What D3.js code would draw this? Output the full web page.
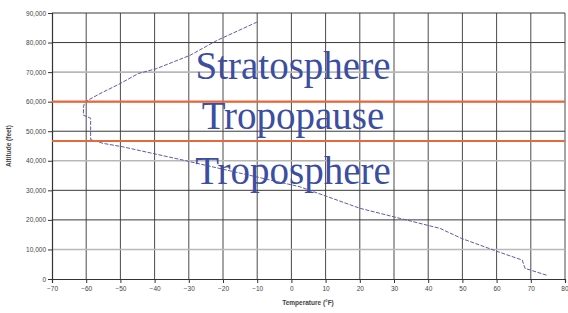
<!DOCTYPE html>
<html lang="en">

<head>
    <meta charset="UTF-8">
    <title>Atmosphere temperature profile</title>
    <script src="https://d3js.org/d3.v7.min.js"></script>
    <style>
        body { margin: 0; background: #fff; }
    </style>
</head>

<body>
    <script>
        // profile: temperature (F) vs altitude (feet)
        var temps = [74.6, 68.3, 67.5, 60.5, 49.8, 43.5, 31.8, 20.1, 2.5, -31.6, -49.2, -55.1, -58.7, -58.7,
            -60.8, -60.8, -60.4, -56, -50.1, -44.8, -39.4, -29.6, -21.8, -10.1];
        var altitudes = [1300, 3600, 6400, 9200, 13700, 17100, 20500, 23900, 31200, 40200, 44700, 45900, 47200, 54400,
            55400, 58200, 59900, 62700, 66100, 69500, 71200, 75700, 80700, 86900];

        var xTicks = d3.range(-70, 81, 10);
        var yTicks = d3.range(0, 90001, 10000);
        var lightRows = [10000, 40000, 70000];

        var boundaries = [60000, 46700];
        var layerNames = ["Stratosphere", "Tropopause", "Troposphere"];
        var layerAlts = [67800, 50800, 32000];

        var width = 568, height = 313;
        var margin = { left: 52, right: 3, top: 13, bottom: 34 };

        var svg = d3.select("body")
            .append("svg")
            .attr("width", width)
            .attr("height", height);

        var x = d3.scaleLinear().domain([-70, 80]).range([margin.left, width - margin.right]);
        var y = d3.scaleLinear().domain([0, 90000]).range([height - margin.bottom, margin.top]);

        // grid
        svg.append("g").selectAll("line")
            .data(xTicks.slice(1))
            .join("line")
            .attr("x1", d => x(d)).attr("x2", d => x(d))
            .attr("y1", y(0)).attr("y2", y(90000))
            .attr("stroke", "#4a4a4a")
            .attr("stroke-width", 1);

        svg.append("g").selectAll("line")
            .data(yTicks.slice(1))
            .join("line")
            .attr("x1", x(-70)).attr("x2", x(80))
            .attr("y1", d => y(d)).attr("y2", d => y(d))
            .attr("stroke", d => lightRows.indexOf(d) >= 0 ? "#b8b8b8" : "#3a3a3a")
            .attr("stroke-width", d => lightRows.indexOf(d) >= 0 ? 1.6 : 1);

        // axes
        var yAxis = d3.axisLeft(y).tickValues(yTicks).tickSize(4).tickFormat(d3.format(","));
        var xAxis = d3.axisBottom(x).tickValues(xTicks).tickSize(4).tickFormat(d3.format("d"));

        var gy = svg.append("g").attr("transform", "translate(" + x(-70) + ",0)").call(yAxis);
        var gx = svg.append("g").attr("transform", "translate(0," + y(0) + ")").call(xAxis);

        [gx, gy].forEach(function (g) {
            g.select(".domain").attr("stroke", "#333").attr("stroke-width", 1.2);
            g.selectAll(".tick line").attr("stroke", "#333");
            g.selectAll("text")
                .attr("fill", "#444")
                .style("font-family", "Arial, 'Liberation Sans', sans-serif")
                .style("font-size", "6.5px");
        });
        gy.selectAll("text").attr("x", -6);
        gx.selectAll("text").attr("y", 7);
        // keep the last label inside the window
        gx.selectAll(".tick text").filter(d => d === 80).attr("text-anchor", "end").attr("x", 3);

        // axis titles
        svg.append("text")
            .attr("transform", "translate(11," + y(45000) + ") rotate(-90)")
            .attr("text-anchor", "middle")
            .attr("fill", "#444")
            .style("font-family", "Arial, 'Liberation Sans', sans-serif")
            .style("font-size", "6.5px")
            .style("font-weight", "bold")
            .text("Altitude (feet)");

        svg.append("text")
            .attr("x", 308)
            .attr("y", 305)
            .attr("text-anchor", "middle")
            .attr("fill", "#444")
            .style("font-family", "Arial, 'Liberation Sans', sans-serif")
            .style("font-size", "6.5px")
            .style("font-weight", "bold")
            .text("Temperature (°F)");

        // temperature profile
        var profile = temps.map((t, i) => [t, altitudes[i]]);
        svg.append("path")
            .datum(profile)
            .attr("d", d3.line().x(d => x(d[0])).y(d => y(d[1])))
            .attr("fill", "none")
            .attr("stroke", "#5c5ca8")
            .attr("stroke-width", 1)
            .attr("stroke-dasharray", "4,1.5");

        // layer boundaries
        svg.append("g").selectAll("line")
            .data(boundaries)
            .join("line")
            .attr("x1", x(-70)).attr("x2", x(80))
            .attr("y1", d => y(d)).attr("y2", d => y(d))
            .attr("stroke", "#e8683e")
            .attr("stroke-width", 2.2);

        // layer names
        svg.append("g").selectAll("text")
            .data(layerNames)
            .join("text")
            .attr("x", 293)
            .attr("y", (d, i) => y(layerAlts[i]))
            .attr("text-anchor", "middle")
            .attr("fill", "#3b4ea2")
            .style("font-family", "'Liberation Serif', 'Times New Roman', serif")
            .style("font-size", "39px")
            .text(d => d);
    </script>
</body>

</html>
